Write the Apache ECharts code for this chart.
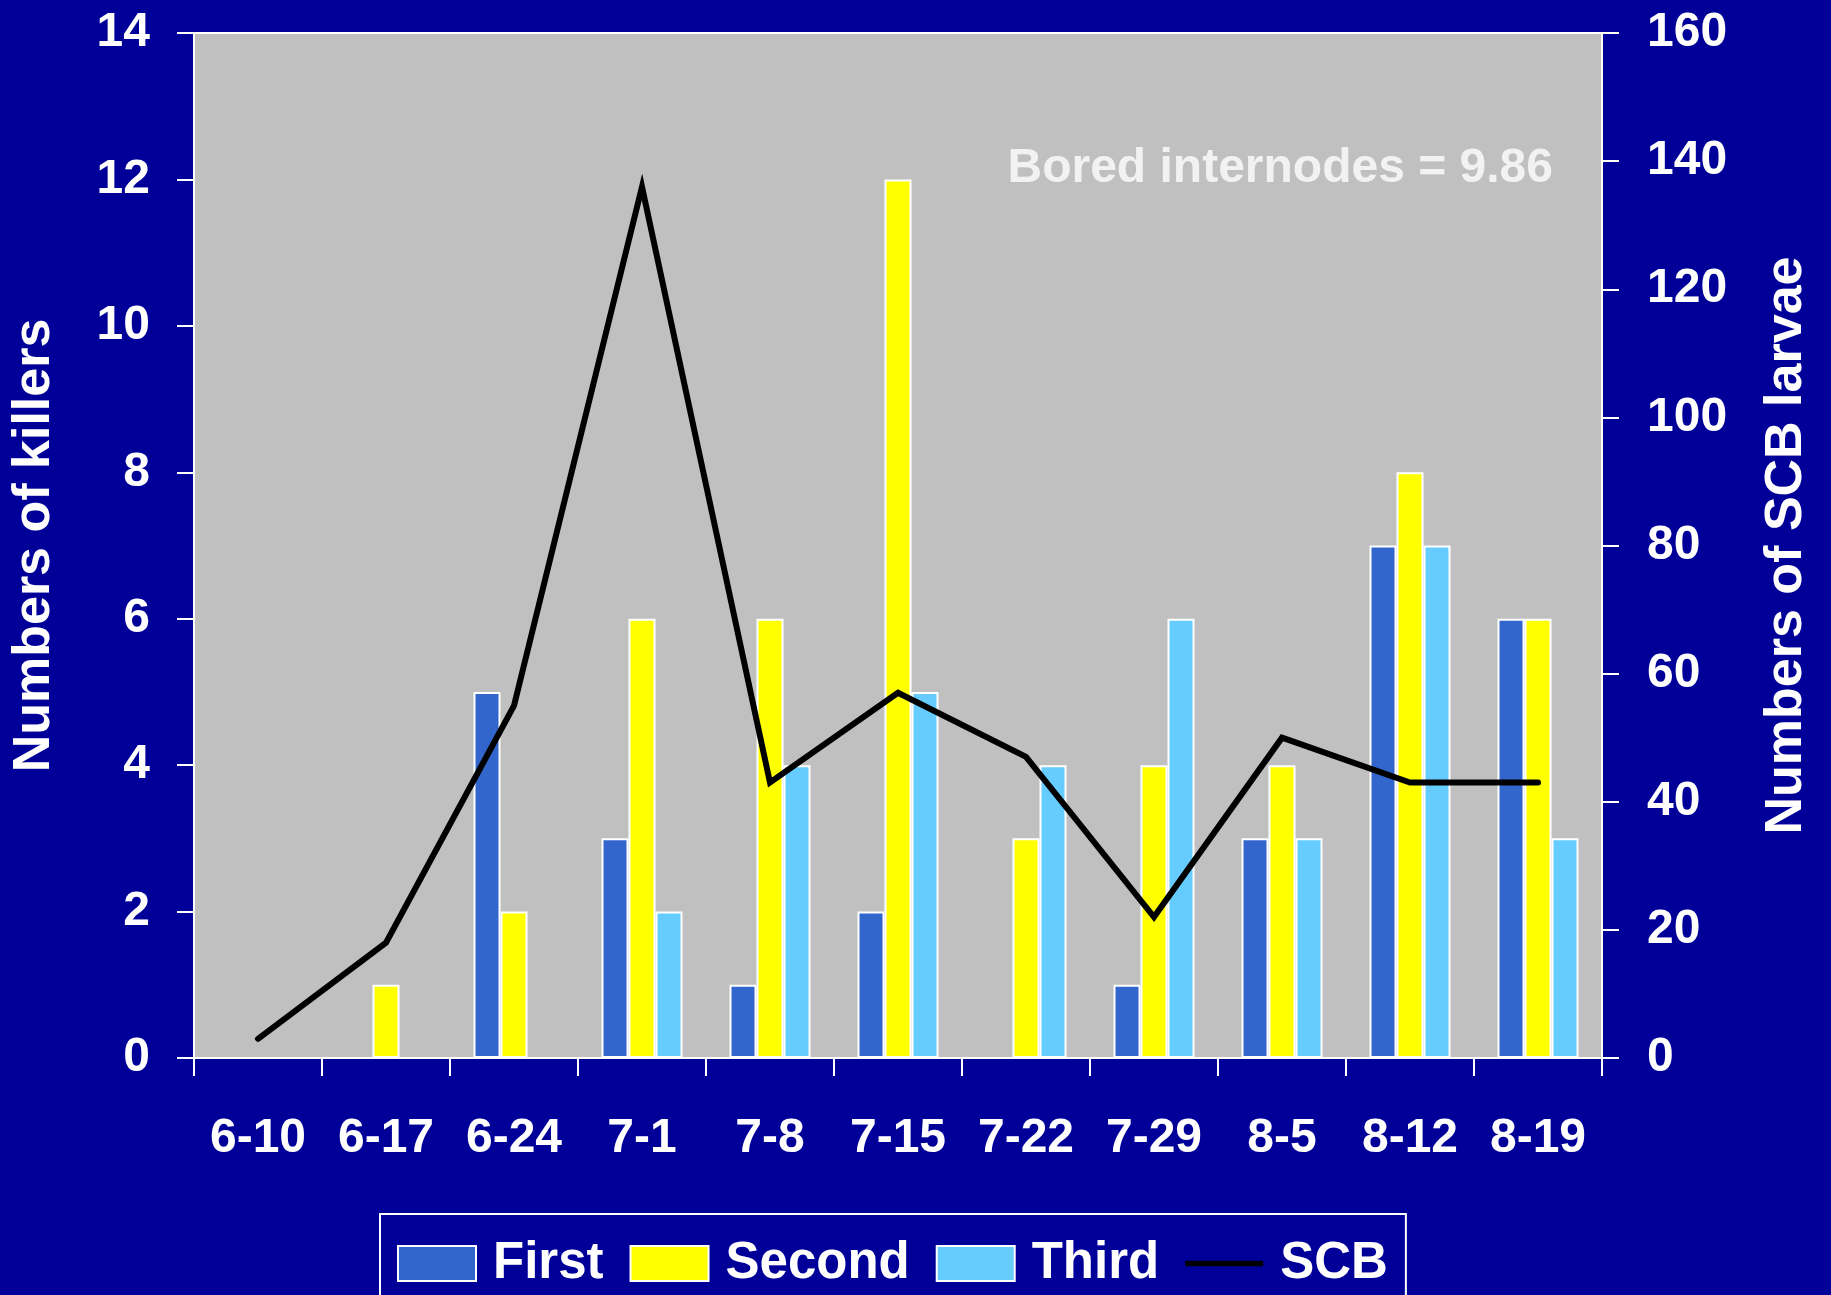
<!DOCTYPE html>
<html>
<head>
<meta charset="utf-8">
<title>Killers and SCB larvae</title>
<script src="https://cdn.jsdelivr.net/npm/echarts@6/dist/echarts.min.js"></script>
<style>
  html, body { margin: 0; padding: 0; background: #000099; }
  #chart { width: 1831px; height: 1295px; }
</style>
</head>
<body>
<div id="chart"></div>
<script>
// Sampling dates (month-day)
const dates = ['6-10', '6-17', '6-24', '7-1', '7-8', '7-15', '7-22', '7-29', '8-5', '8-12', '8-19'];

// Numbers of killers by generation (left axis)
const firstGen  = [0, 0, 5, 3, 1, 2, 0, 1, 3, 7, 6];
const secondGen = [0, 1, 2, 6, 6, 12, 3, 4, 4, 8, 6];
const thirdGen  = [0, 0, 0, 2, 4, 5, 4, 6, 3, 7, 3];

// Numbers of SCB larvae (right axis)
const scbLarvae = [3, 18, 55, 136, 43, 57, 47, 22, 50, 43, 43];

// Axis ranges and tick steps
const leftTicks = { min: 0, max: 14, interval: 2 };
const rightTicks = { min: 0, max: 160, interval: 20 };

const boredInternodes = 9.86;

const FONT = '"Liberation Sans", Arial, sans-serif';
const WHITE = '#ffffff';

const chart = echarts.init(document.getElementById('chart'), null, { renderer: 'canvas' });

const barStyle = (color) => ({
  color: color,
  borderColor: WHITE,
  borderWidth: 2
});

chart.setOption({
  backgroundColor: '#000099',
  animation: false,
  textStyle: { fontFamily: FONT, fontWeight: 'bold', color: WHITE },
  grid: {
    left: 194, right: 229, top: 33, bottom: 237,
    outerBoundsMode: 'none',
    containLabel: false,
    show: true,
    backgroundColor: '#c0c0c0',
    borderColor: WHITE,
    borderWidth: 2
  },
  legend: {
    left: 380, top: 1214,
    padding: [24, 18, 24, 17],
    borderColor: WHITE,
    borderWidth: 2,
    itemWidth: 78,
    itemHeight: 35,
    itemGap: 26,
    icon: 'rect',
    textStyle: {
      color: WHITE, fontFamily: FONT, fontWeight: 'bold', fontSize: 51,
      padding: [0, 0, 0, 12]
    },
    data: [
      { name: 'First' },
      { name: 'Second' },
      { name: 'Third' },
      { name: 'SCB', icon: 'path://M0,0L84,0L84,6L0,6Z' }
    ]
  },
  xAxis: {
    type: 'category',
    data: dates,
    boundaryGap: true,
    axisLine: { lineStyle: { color: WHITE, width: 2 } },
    axisTick: { show: true, length: 18, alignWithLabel: false, lineStyle: { color: WHITE, width: 2 } },
    axisLabel: {
      color: WHITE, fontFamily: FONT, fontWeight: 'bold', fontSize: 48,
      margin: 57, interval: 0
    },
    splitLine: { show: false }
  },
  yAxis: [
    {
      type: 'value',
      position: 'left',
      min: leftTicks.min, max: leftTicks.max, interval: leftTicks.interval,
      name: 'Numbers of killers',
      nameLocation: 'middle',
      nameRotate: 90,
      nameGap: 133,
      nameTextStyle: { color: WHITE, fontFamily: FONT, fontWeight: 'bold', fontSize: 52 },
      axisLine: { show: true, lineStyle: { color: WHITE, width: 2 } },
      axisTick: { show: true, length: 17, lineStyle: { color: WHITE, width: 2 } },
      axisLabel: { color: WHITE, fontFamily: FONT, fontWeight: 'bold', fontSize: 48, margin: 44 },
      splitLine: { show: false }
    },
    {
      type: 'value',
      position: 'right',
      min: rightTicks.min, max: rightTicks.max, interval: rightTicks.interval,
      name: 'Numbers of SCB larvae',
      nameLocation: 'middle',
      nameRotate: 90,
      nameGap: 159,
      nameTextStyle: { color: WHITE, fontFamily: FONT, fontWeight: 'bold', fontSize: 52 },
      axisLine: { show: true, lineStyle: { color: WHITE, width: 2 } },
      axisTick: { show: true, length: 17, lineStyle: { color: WHITE, width: 2 } },
      axisLabel: { color: WHITE, fontFamily: FONT, fontWeight: 'bold', fontSize: 48, margin: 45 },
      splitLine: { show: false }
    }
  ],
  graphic: [
    {
      type: 'text',
      right: 278,
      top: 145,
      style: {
        text: 'Bored internodes = ' + boredInternodes.toFixed(2),
        fill: '#f2f2f2',
        font: 'bold 48px ' + FONT
      }
    }
  ],
  series: [
    {
      name: 'First', type: 'bar', yAxisIndex: 0,
      data: firstGen, barWidth: 27, barGap: '0%',
      itemStyle: barStyle('#3366cc')
    },
    {
      name: 'Second', type: 'bar', yAxisIndex: 0,
      data: secondGen, barWidth: 27, barGap: '0%',
      itemStyle: barStyle('#ffff00')
    },
    {
      name: 'Third', type: 'bar', yAxisIndex: 0,
      data: thirdGen, barWidth: 27, barGap: '0%',
      itemStyle: barStyle('#66ccff')
    },
    {
      name: 'SCB', type: 'line', yAxisIndex: 1,
      data: scbLarvae,
      symbol: 'none',
      showSymbol: false,
      lineStyle: { color: '#000000', width: 6, cap: 'round', join: 'miter' },
      itemStyle: { color: '#000000' },
      z: 5
    }
  ]
});
</script>
</body>
</html>
